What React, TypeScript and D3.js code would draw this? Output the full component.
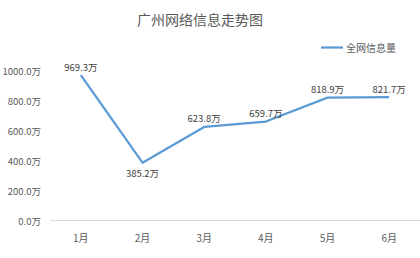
import React from "react";
import * as d3 from "d3";

const categories = ["1月", "2月", "3月", "4月", "5月", "6月"];
const values = [969.3, 385.2, 623.8, 659.7, 818.9, 821.7];
const yTicks = [0, 200, 400, 600, 800, 1000];
const seriesName = "全网信息量";
const title = "广州网络信息走势图";

const W = 420, H = 258;
const FONT = "'Noto Sans CJK SC', 'Microsoft YaHei', sans-serif";

export default function App() {
  const x = d3.scaleBand<string>().domain(categories).range([50, 420]);
  const y = d3.scaleLinear().domain([0, 1000]).range([220.5, 70.5]);
  const line = d3
    .line<number>()
    .x((_, i) => (x(categories[i]) as number) + x.bandwidth() / 2)
    .y((d) => y(d));
  const fmt = (v: number) => v.toFixed(1) + "万";
  return (
    <svg
      width={W}
      height={H}
      style={{ position: "absolute", left: 0, top: 0, background: "#fff" }}
      fontFamily={FONT}
    >
      <text x={200} y={19} textAnchor="middle" dominantBaseline="central" fontSize={14} fill="#595959">
        {title}
      </text>
      <line x1={321} x2={343} y1={47.5} y2={47.5} stroke="#5B9BD5" strokeWidth={2.25} />
      <text x={346} y={47.5} dominantBaseline="central" fontSize={10} fill="#595959">
        {seriesName}
      </text>
      {yTicks.map((t) => (
        <text key={t} x={41} y={y(t)} textAnchor="end" dominantBaseline="central" fontSize={9.5} fill="#595959">
          {fmt(t)}
        </text>
      ))}
      <line x1={50} x2={420} y1={y(0)} y2={y(0)} stroke="#D9D9D9" strokeWidth={1} />
      {categories.map((c) => (
        <text
          key={c}
          x={(x(c) as number) + x.bandwidth() / 2}
          y={237.5}
          textAnchor="middle"
          dominantBaseline="central"
          fontSize={10}
          fill="#595959"
        >
          {c}
        </text>
      ))}
      <path d={line(values) || ""} fill="none" stroke="#5B9BD5" strokeWidth={2.25} strokeLinejoin="round" />
      {values.map((v, i) => {
        const cx = (x(categories[i]) as number) + x.bandwidth() / 2;
        const below = i > 0 && i < values.length - 1 && v < values[i - 1] && v < values[i + 1];
        return (
          <text
            key={i}
            x={cx}
            y={below ? y(v) + 10.5 : y(v) - 8.5}
            textAnchor="middle"
            dominantBaseline="central"
            fontSize={9.5}
            fill="#404040"
          >
            {fmt(v)}
          </text>
        );
      })}
    </svg>
  );
}
